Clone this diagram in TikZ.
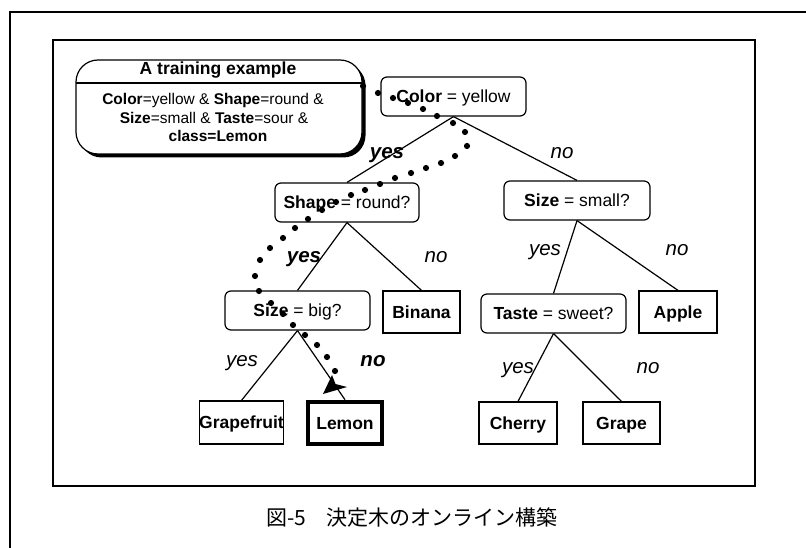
\documentclass[tikz,border=0pt]{standalone}
\usepackage{fontspec}
\setmainfont{Liberation Sans}
\newfontfamily\cjk{Noto Sans CJK JP}
\begin{document}
\begin{tikzpicture}[x=1pt,y=-1pt,
  dec/.style={draw, rounded corners=6pt, line width=1.2pt, minimum width=145pt, minimum height=39pt, inner sep=0pt, text height=12.6pt, text depth=0pt, font=\fontsize{17.5}{20}\selectfont},
  leaf/.style={draw, line width=1.2pt, minimum width=77pt, minimum height=42pt, inner sep=0pt, text height=12.6pt, text depth=0pt, font=\fontsize{17.5}{20}\selectfont\bfseries},
  lbl/.style={anchor=base, inner sep=0pt, font=\fontsize{20.5}{24}\selectfont\itshape},
  blbl/.style={anchor=base, inner sep=0pt, font=\fontsize{20.5}{24}\selectfont\bfseries\itshape},
  edge/.style={line width=1.2pt},
  frameline/.style={line width=1.1pt},
  tline/.style={anchor=base, inner sep=0pt, font=\fontsize{15.5}{18.5}\selectfont}
]
\useasboundingbox (0,0) rectangle (806,548);

% frames
\coordinate (oBL) at (10,548);
\coordinate (oTL) at (10,12);
\coordinate (oTR) at (806,12);
\draw[frameline] (oBL) -- (oTL) -- (oTR);
\coordinate (iTL) at (53,40);
\coordinate (iBR) at (755,486);
\draw[frameline] (iTL) rectangle (iBR);

% training example box
\fill[rounded corners=22pt] (79.5,63.5) rectangle (365.5,157.5);
\node[draw, fill=white, rounded corners=22pt, line width=1.2pt, minimum width=286pt, minimum height=94pt, inner sep=0pt] (train) at (219,107) {};
\coordinate (sepL) at (76,83);
\coordinate (sepR) at (362,83);
\draw[line width=1.1pt] (sepL) -- (sepR);
\node[anchor=base, inner sep=0pt, font=\fontsize{17.5}{20}\selectfont\bfseries] (title) at (218,75) {A training example};
\node[tline] (b1) at (213,105) {\textbf{Color}=yellow \& \textbf{Shape}=round \&};
\node[tline] (b2) at (214,123.5) {\textbf{Size}=small \& \textbf{Taste}=sour \&};
\node[tline] (b3) at (218,142) {\textbf{class=Lemon}};

% tree nodes
\node[dec] (color) at (453.5,96.5) {\textbf{Color} = yellow};
\node[dec, minimum width=146pt] (small) at (577,200.5) {\textbf{Size} = small?};
\node[dec, minimum width=144pt] (shape) at (347,202.5) {\textbf{Shape} = round?};
\node[dec] (big) at (297.5,310.5) {\textbf{Size} = big?};
\node[dec] (taste) at (553.5,313.5) {\textbf{Taste} = sweet?};
\node[leaf] (binana) at (421.5,312) {Binana};
\node[leaf, minimum width=78pt] (apple) at (678,312) {Apple};
\node[leaf, minimum height=43pt] (grapefruit) at (241.5,422.5) {Grapefruit};
\node[leaf, line width=4.5pt, minimum width=74pt, minimum height=42pt] (lemon) at (345,423) {Lemon};
\node[leaf, minimum width=78pt] (cherry) at (518,423) {Cherry};
\node[leaf] (grape) at (621.5,423) {Grape};

% edges
\draw[edge] (color.south) -- (shape.north);
\draw[edge] (color.south) -- (small.north);
\draw[edge] (shape.south) -- (big.north);
\draw[edge] (shape.south) -- (binana.north);
\draw[edge] (small.south) -- (taste.north);
\draw[edge] (small.south) -- (apple.north);
\draw[edge] (big.south) -- (grapefruit.north);
\draw[edge] (big.south) -- (lemon.north);
\draw[edge] (taste.south) -- (cherry.north);
\draw[edge] (taste.south) -- (grape.north);

% edge labels
\node[blbl] (l1) at (387,158.5) {yes};
\node[lbl]  (l2) at (562,158.5) {no};
\node[blbl] (l3) at (304,262.5) {yes};
\node[lbl]  (l4) at (436,262.5) {no};
\node[lbl]  (l5) at (545,255.5) {yes};
\node[lbl]  (l6) at (677,255.5) {no};
\node[lbl]  (l7) at (242,366.5) {yes};
\node[blbl] (l8) at (373,366.5) {no};
\node[lbl]  (l9) at (518,373.5) {yes};
\node[lbl]  (l10) at (648,373.5) {no};

% dotted path of the training example
\foreach \x/\y in {363/86, 378/93, 393/98, 408/103, 423/109, 437/116, 453/123, 465/132, 467/146, 455/156, 441/163, 426/168, 411/173, 395/178, 380/184, 365/190, 351/195, 336/202, 322/210, 308/219, 295/228, 283/238, 270/248, 260/260, 255/276, 259/291, 271/303, 283/314, 293/325, 305/335, 317/345, 327/357, 335/371}
  \fill (\x,\y) circle (3.1pt);
\coordinate (tip) at (323,394);
\coordinate (barbA) at (332,375);
\coordinate (notch) at (335.5,384);
\coordinate (barbB) at (347,387);
\fill (tip) -- (barbA) -- (notch) -- (barbB) -- cycle;

% caption
\node[anchor=base, inner sep=0pt, font=\cjk\fontsize{21}{24}\selectfont] (cap) at (412,525) {図-5　決定木のオンライン構築};
\end{tikzpicture}
\end{document}
